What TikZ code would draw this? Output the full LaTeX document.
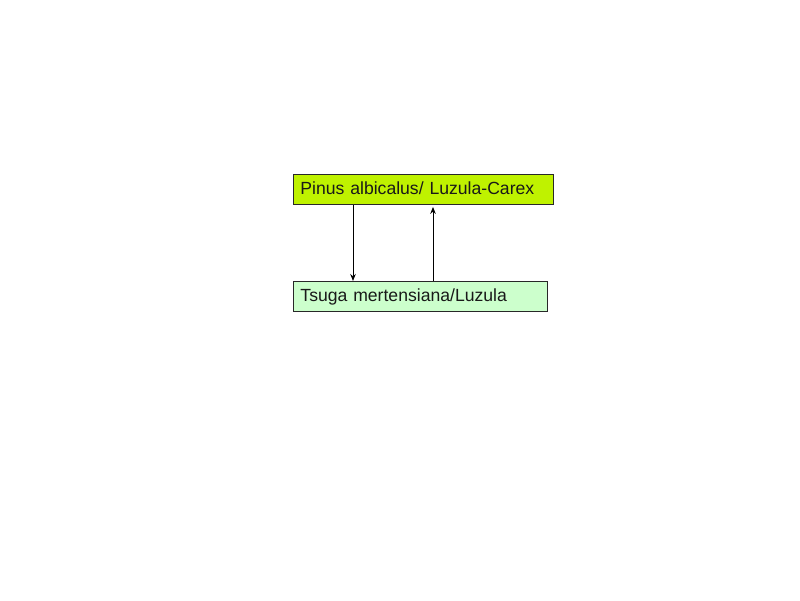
\documentclass[tikz,border=0pt]{standalone}
\usepackage{fontspec}
\setmainfont{Liberation Sans}
\usetikzlibrary{arrows.meta}
\definecolor{limebox}{RGB}{191,242,0}
\definecolor{mintbox}{RGB}{204,255,204}
\definecolor{edgegrey}{RGB}{40,40,40}
\definecolor{textgrey}{RGB}{25,25,25}
\tikzset{
  boxstyle/.style={draw=edgegrey, line width=0.9pt, inner sep=0pt, minimum height=30pt, text=textgrey,
    font=\fontsize{17.6pt}{19pt}\selectfont, align=left, anchor=north west, text height=13pt, text depth=3.5pt},
  arrowstyle/.style={draw=black, line width=0.9pt, -{Stealth[length=7pt,width=5.5pt]}}
}
\begin{document}
\begin{tikzpicture}[x=1pt,y=1pt]
\useasboundingbox (0,0) rectangle (800,-600);
\node[boxstyle, fill=limebox, minimum width=260pt, text width=246pt, inner xsep=7pt] (pinus) at (293,-174) {Pinus albicalus/ Luzula-Carex};
\node[boxstyle, fill=mintbox, minimum width=254pt, text width=240pt, inner xsep=7pt] (tsuga) at (293,-281) {Tsuga mertensiana/Luzula};
\draw[arrowstyle] ([xshift=60pt]pinus.south west) -- ([xshift=60pt]tsuga.north west);
\draw[arrowstyle] ([xshift=140pt]tsuga.north west) -- ([xshift=140pt,yshift=-2pt]pinus.south west);
\end{tikzpicture}
\end{document}
